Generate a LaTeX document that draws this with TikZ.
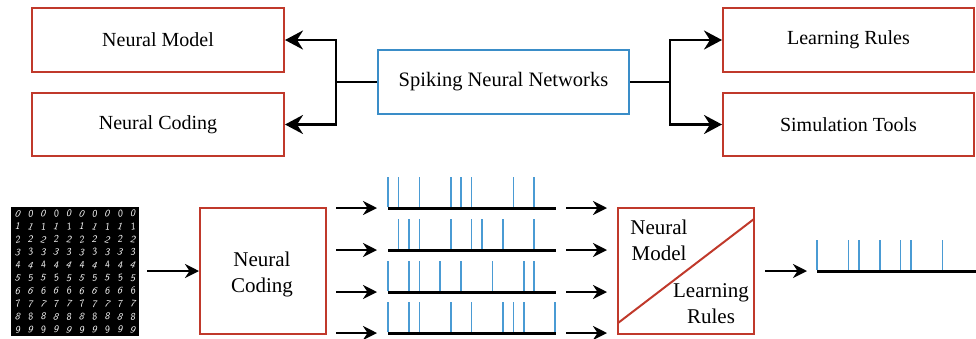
\documentclass[tikz,border=0pt]{standalone}
\usepackage{fontspec}
\setmainfont{Liberation Serif}
\newfontfamily\tnr{Liberation Serif}
\usetikzlibrary{arrows.meta}
\definecolor{boxred}{HTML}{C0392B}
\definecolor{boxblue}{HTML}{3A8DC8}
\definecolor{spikeblue}{HTML}{4A9BD4}
\tikzset{
  redbox/.style={draw=boxred, line width=2pt, inner sep=0pt, font=\tnr\fontsize{20}{24}\selectfont},
  bluebox/.style={draw=boxblue, line width=2pt, inner sep=0pt, font=\tnr\fontsize{20.5}{24}\selectfont},
  bigarrow/.style={line width=2.8pt, -{Stealth[length=18pt,width=19pt,inset=6pt]}},
  conn/.style={line width=2.8pt},
  smallarrow/.style={line width=2.6pt, -{Stealth[length=14pt,width=14pt,inset=4.5pt]}},
  baseline/.style={line width=3pt, line cap=butt},
  spike/.style={draw=spikeblue, line width=1.7pt},
  lbl/.style={font=\tnr\fontsize{21}{26}\selectfont, align=center, inner sep=0pt},
  digit/.style={text=white, font=\fontsize{10}{10}\sffamily\itshape, inner sep=0pt},
}
\begin{document}
\begin{tikzpicture}[x=1pt,y=-1pt]
\useasboundingbox (0,0) rectangle (976,338);
% ---- top part ----
\node[redbox, minimum width=252pt, minimum height=64pt] (nm) at (158,40) {Neural Model};
\node[redbox, minimum width=252pt, minimum height=63pt] (nc) at (158,124.5) {Neural Coding};
\node[bluebox, minimum width=251pt, minimum height=64pt] (snn) at (503.5,82) {Spiking Neural Networks};
\node[redbox, minimum width=251pt, minimum height=64pt] (lr) at (848.5,40) {Learning Rules};
\node[redbox, minimum width=251pt, minimum height=63pt] (st) at (848.5,124.5) {Simulation Tools};
\coordinate (jl) at (336,82);
\coordinate (jr) at (670,82);
\draw[conn] (snn.west) -- (jl);
\draw[bigarrow] (jl) |- (nm.east);
\draw[bigarrow] (jl) |- (nc.east);
\draw[conn] (snn.east) -- (jr);
\draw[bigarrow] (jr) |- (lr.west);
\draw[bigarrow] (jr) |- (st.west);
% ---- bottom part ----
\node[fill=black, minimum width=128pt, minimum height=129pt, inner sep=0pt] (mnist) at (75,271.5) {};
\foreach \i in {0,...,9}{
  \foreach \j in {0,...,9}{
    \pgfmathsetmacro{\rot}{mod(7*\i+13*\j,5)*6-12}
    \node[digit, rotate=\rot] at (17.4+12.8*\j, 213.5+12.9*\i) {\i};
  }
}
\node[draw=boxred, line width=2pt, minimum width=126pt, minimum height=126pt, inner sep=0pt] (enc) at (263,271) {};
\node[lbl] (enct) at (262,274) {Neural\\Coding};
\coordinate (ma) at (147,271);
\draw[smallarrow] (ma) -- (enc.west);
% spike trains
\foreach \y/\list [count=\k] in {208/{0,1,3,6,7,8,12,14}, 250/{1,2,3,6,8,9,11,14}, 292/{0,2,3,5,7,10,13,14}, 333/{0,2,3,6,8,11,12,13,16}}{
  \coordinate (ain\k) at (336,\y);
  \coordinate (bs\k) at (388,\y);
  \coordinate (be\k) at (556,\y);
  \coordinate (aout\k) at (566,\y);
  \coordinate (atip\k) at (607,\y);
  \draw[smallarrow] (ain\k) -- (bs\k -| 377,0);
  \foreach \s in \list { \draw[spike] (388+10.45*\s,\y-1) -- (388+10.45*\s,\y-31); }
  \draw[baseline] (bs\k) -- (be\k);
  \draw[smallarrow] (aout\k) -- (atip\k);
}
% neuron box
\node[draw=boxred, line width=2pt, minimum width=136pt, minimum height=126pt, inner sep=0pt] (neu) at (686,271) {};
\draw[draw=boxred, line width=2pt] (618,323) -- (754,219);
\node[lbl] (nmt) at (659,240.5) {Neural\\Model};
\node[lbl] (lrt) at (711,304) {Learning\\Rules};
% output
\coordinate (os) at (817,271);
\coordinate (oe) at (976,271);
\draw[smallarrow] (765,271) -- (os -| 807,0);
\foreach \s in {0,3,4,6,8,9,12} { \draw[spike] (817+10.45*\s,270) -- (817+10.45*\s,240); }
\draw[baseline] (os) -- (oe);
\end{tikzpicture}
\end{document}
